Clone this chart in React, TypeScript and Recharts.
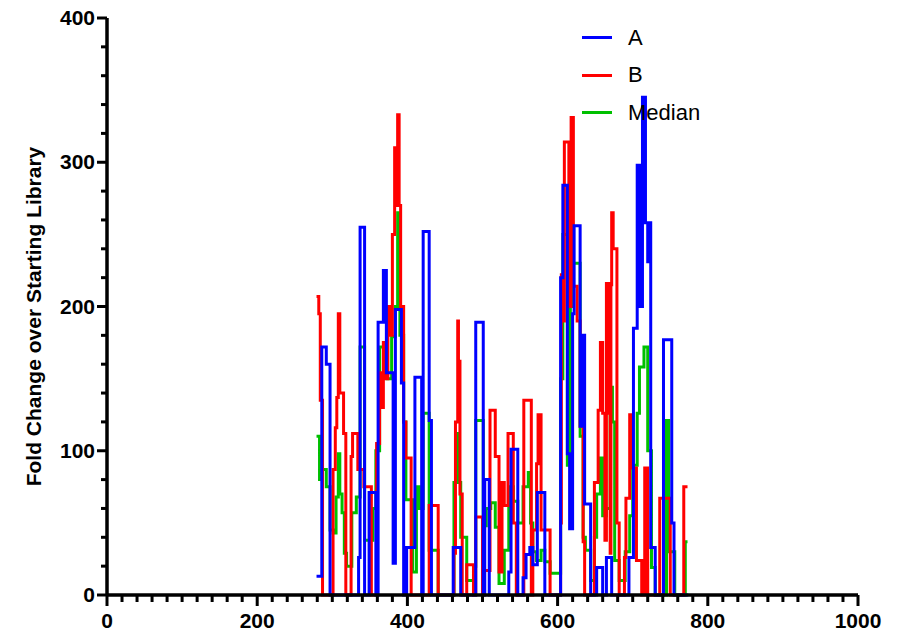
import { LineChart, Line, XAxis, YAxis, Legend } from 'recharts';

// step positions (x) and fold change values
const aX = [279, 286, 292, 297, 335, 337, 343, 349, 358, 361, 368, 372, 381, 384, 392, 395, 399, 410, 419, 421, 429, 432, 461, 471, 491, 501, 503, 509, 535, 538, 547, 554, 558, 563, 567, 573, 583, 604, 607, 613, 616, 620, 622, 630, 632, 636, 644, 652, 660, 665, 672, 695, 701, 706, 709, 713, 717, 720, 722, 724, 730, 741, 752, 755, 774];
const aY = [13, 172, 160, 0, 26, 255, 0, 71, 0, 189, 225, 154, 22, 198, 147, 0, 33, 151, 0, 252, 121, 0, 33, 0, 189, 0, 80, 0, 16, 101, 0, 12, 28, 33, 21, 71, 0, 220, 284, 98, 46, 195, 256, 117, 180, 63, 0, 19, 0, 26, 0, 26, 185, 298, 200, 345, 258, 231, 258, 33, 0, 177, 50, 0, 0];

const bX = [279, 282, 284, 287, 301, 304, 306, 308, 310, 315, 318, 325, 327, 334, 342, 352, 359, 363, 365, 368, 371, 374, 378, 380, 383, 385, 387, 389, 391, 395, 398, 405, 429, 441, 462, 464, 467, 468, 470, 473, 479, 488, 491, 500, 502, 510, 517, 522, 526, 529, 534, 541, 545, 555, 565, 567, 572, 574, 578, 590, 604, 605, 607, 609, 615, 618, 621, 626, 630, 634, 636, 649, 654, 657, 660, 663, 665, 669, 670, 671, 672, 674, 679, 682, 689, 691, 696, 698, 705, 712, 716, 720, 736, 750, 768, 773];
const bY = [207, 195, 135, 0, 87, 116, 137, 195, 140, 112, 0, 96, 112, 87, 75, 0, 105, 154, 130, 175, 150, 200, 180, 250, 310, 270, 333, 270, 200, 120, 95, 0, 62, 0, 29, 120, 190, 162, 70, 0, 21, 0, 54, 0, 17, 128, 96, 16, 78, 62, 112, 50, 0, 135, 0, 45, 91, 125, 45, 0, 50, 222, 190, 314, 200, 331, 214, 190, 117, 37, 0, 78, 128, 175, 126, 38, 216, 126, 29, 215, 265, 240, 50, 0, 26, 67, 125, 88, 24, 0, 88, 0, 67, 0, 75, 75];

const medX = [279, 283, 285, 292, 297, 301, 305, 308, 310, 313, 316, 319, 326, 332, 337, 343, 354, 358, 363, 369, 373, 379, 384, 387, 390, 395, 398, 407, 412, 416, 421, 429, 441, 462, 465, 468, 471, 479, 488, 491, 501, 505, 511, 517, 522, 529, 535, 541, 547, 554, 561, 564, 567, 572, 578, 583, 590, 604, 607, 613, 617, 621, 630, 634, 637, 644, 649, 652, 657, 660, 665, 670, 673, 676, 682, 690, 696, 700, 706, 709, 715, 720, 725, 730, 745, 748, 756, 770, 773];
const medY = [110, 80, 87, 75, 45, 43, 68, 98, 70, 57, 29, 20, 57, 68, 172, 38, 60, 100, 172, 170, 150, 179, 200, 265, 180, 120, 66, 16, 75, 60, 126, 31, 0, 78, 112, 78, 40, 10, 20, 121, 48, 60, 64, 47, 8, 31, 75, 65, 50, 75, 85, 50, 30, 24, 31, 23, 15, 150, 250, 90, 200, 230, 110, 40, 31, 10, 40, 70, 95, 55, 60, 144, 120, 24, 10, 30, 55, 90, 126, 158, 172, 100, 19, 0, 121, 30, 0, 37, 37];

const xTicks = Array.from({ length: 51 }, (_, i) => i * 20);
const yTicks = Array.from({ length: 21 }, (_, i) => i * 20);

const series = [
  { name: 'A', color: '#0000ff' },
  { name: 'B', color: '#ff0000' },
  { name: 'Median', color: '#00c000' },
];

const toPoints = (xs: number[], ys: number[]) => xs.map((x, i) => ({ x, y: ys[i] }));

const FONT = '"Liberation Sans", Arial, sans-serif';

const XTick = (props: any) => {
  const { x, y, payload } = props;
  const major = payload.value % 200 === 0;
  return (
    <g>
      <line x1={x} x2={x} y1={y} y2={y + (major ? 11 : 7)} stroke="#000" strokeWidth={3} />
      {major && (
        <text x={x} y={y + 33} textAnchor="middle" fontFamily={FONT} fontWeight="bold" fontSize={21} fill="#000">
          {payload.value}
        </text>
      )}
    </g>
  );
};

const YTick = (props: any) => {
  const { x, y, payload } = props;
  const major = payload.value % 100 === 0;
  return (
    <g>
      <line x1={x - (major ? 10 : 6)} x2={x} y1={y} y2={y} stroke="#000" strokeWidth={3} />
      {major && (
        <text x={x - 12} y={y + 7} textAnchor="end" fontFamily={FONT} fontWeight="bold" fontSize={21} fill="#000">
          {payload.value}
        </text>
      )}
    </g>
  );
};

const renderLegend = () => (
  <div style={{ fontFamily: FONT, fontSize: 22, color: '#000' }}>
    {series.map((s) => (
      <div key={s.name} style={{ display: 'flex', alignItems: 'center', height: 37.5 }}>
        <div style={{ width: 30, height: 3, background: s.color, marginRight: 16 }} />
        <span>{s.name}</span>
      </div>
    ))}
  </div>
);

export default function App() {
  return (
    <div style={{ marginTop: -5 }}>
      <LineChart width={892} height={630} margin={{ top: 15, right: 42, bottom: 0, left: 0 }}>
        <XAxis
          type="number"
          dataKey="x"
          domain={[0, 1000]}
          ticks={xTicks}
          interval={0}
          tickSize={0}
          tickMargin={0}
          tick={<XTick />}
          height={38}
          axisLine={{ stroke: '#000', strokeWidth: 3.5 }}
          tickLine={false}
        />
        <YAxis
          type="number"
          domain={[0, 400]}
          ticks={yTicks}
          interval={0}
          tickSize={0}
          tickMargin={0}
          tick={<YTick />}
          width={99}
          axisLine={{ stroke: '#000', strokeWidth: 3.5 }}
          tickLine={false}
          label={(props: any) => {
            const vb = props.viewBox;
            const cx = 25;
            const cy = vb.y + vb.height / 2 + 10;
            return (
              <text
                x={cx}
                y={cy}
                transform={`rotate(-90 ${cx} ${cy})`}
                textAnchor="middle"
                dominantBaseline="central"
                fontFamily={FONT}
                fontWeight="bold"
                fontSize={21}
                fill="#000"
              >
                Fold Change over Starting Library
              </text>
            );
          }}
        />
        <Legend
          layout="vertical"
          align="center"
          verticalAlign="middle"
          content={renderLegend}
          wrapperStyle={{ top: 16, left: 574, width: 160 }}
        />
        <Line
          data={toPoints(medX, medY)}
          dataKey="y"
          name="Median"
          type="stepAfter"
          stroke="#00c000"
          strokeWidth={3}
          dot={false}
          isAnimationActive={false}
        />
        <Line
          data={toPoints(bX, bY)}
          dataKey="y"
          name="B"
          type="stepAfter"
          stroke="#ff0000"
          strokeWidth={3}
          dot={false}
          isAnimationActive={false}
        />
        <Line
          data={toPoints(aX, aY)}
          dataKey="y"
          name="A"
          type="stepAfter"
          stroke="#0000ff"
          strokeWidth={3}
          dot={false}
          isAnimationActive={false}
        />
      </LineChart>
    </div>
  );
}
